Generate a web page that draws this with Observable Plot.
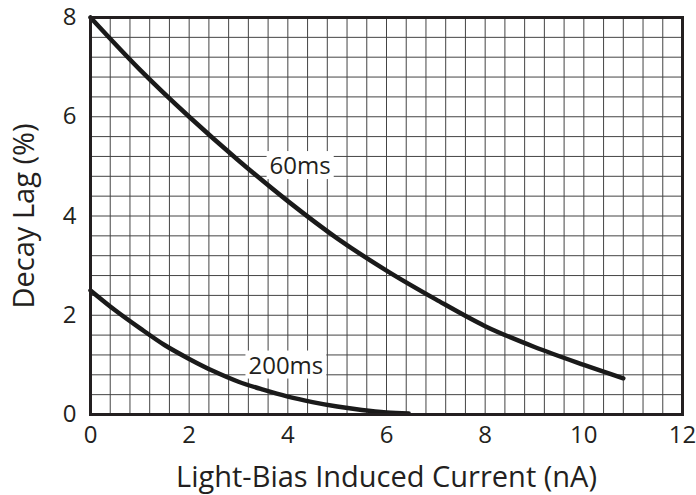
<!DOCTYPE html>
<html>
<head>
<meta charset="utf-8">
<script src="https://cdn.jsdelivr.net/npm/d3@7"></script>
<script src="https://cdn.jsdelivr.net/npm/@observablehq/plot@0.6"></script>
<style>
  html, body { margin: 0; padding: 0; background: #fff; }
  #chart { width: 696px; height: 495px; }
</style>
</head>
<body>
<div id="chart"></div>
<script>
// Data
const current60 = [0, 1, 2, 3, 4, 5, 6, 7, 8, 9, 10, 10.8];
const lag60     = [8, 6.95, 6.0, 5.12, 4.3, 3.55, 2.9, 2.32, 1.78, 1.36, 1.0, 0.73];
const current200 = [0, 0.5, 1, 1.5, 2, 2.5, 3, 3.5, 4, 4.5, 5, 5.5, 6, 6.45];
const lag200     = [2.5, 2.1, 1.74, 1.4, 1.12, 0.87, 0.66, 0.5, 0.36, 0.25, 0.16, 0.09, 0.04, 0.02];
const seriesNames = ["60ms", "200ms"];
const labelX = [4.25, 3.96];
const labelY = [5.0, 0.98];
const xTicks = [0, 2, 4, 6, 8, 10, 12];
const yTicks = [0, 2, 4, 6, 8];
const xGrid = d3.range(0, 12.001, 0.4);
const yGrid = d3.range(0, 8.001, 0.4);
const xTitle = "Light-Bias Induced Current (nA)";
const yTitle = "Decay Lag (%)";

const curves = [
  ...current60.map((x, i) => ({series: seriesNames[0], x, y: lag60[i]})),
  ...current200.map((x, i) => ({series: seriesNames[1], x, y: lag200[i]}))
];
const labels = seriesNames.map((s, i) => ({name: s, x: labelX[i], y: labelY[i]}));

const ink = "#231f20";
const font = "'Open Sans', sans-serif";

const chart = Plot.plot({
  width: 696,
  height: 495,
  marginLeft: 90,
  marginRight: 14,
  marginTop: 17,
  marginBottom: 81,
  style: {fontFamily: font, color: ink, background: "#fff", overflow: "visible"},
  x: {domain: [0, 12], axis: null},
  y: {domain: [0, 8], axis: null},
  marks: [
    Plot.ruleX(xGrid, {stroke: "#444", strokeWidth: 1}),
    Plot.ruleY(yGrid, {stroke: "#444", strokeWidth: 1}),
    Plot.line(curves, {x: "x", y: "y", z: "series", stroke: "#1a1a1a", strokeWidth: 4.5, curve: "catmull-rom", strokeLinecap: "round"}),
    Plot.text(labels, {x: "x", y: "y", text: "name", fill: ink, fontSize: 24, fontFamily: font}),
    Plot.frame({stroke: "#231f20", strokeWidth: 3}),
    Plot.text(xTicks, {x: d => d, frameAnchor: "bottom", dy: 21, lineAnchor: "middle", text: d => String(d), fill: ink, fontSize: 24, fontFamily: font}),
    Plot.text(yTicks, {y: d => d, frameAnchor: "left", dx: -14, textAnchor: "end", lineAnchor: "middle", text: d => String(d), fill: ink, fontSize: 24, fontFamily: font}),
    Plot.text([xTitle], {frameAnchor: "bottom", dy: 63, lineAnchor: "middle", textAnchor: "middle", fill: ink, fontSize: 29, fontFamily: font}),
    Plot.text([yTitle], {frameAnchor: "left", dx: -66, rotate: -90, lineAnchor: "middle", textAnchor: "middle", fill: ink, fontSize: 29, fontFamily: font})
  ]
});

document.getElementById("chart").appendChild(chart);

// white boxes behind the curve labels
const svgNS = "http://www.w3.org/2000/svg";
chart.querySelectorAll("text").forEach(t => {
  if (!seriesNames.includes(t.textContent)) return;
  const b = t.getBBox();
  const r = document.createElementNS(svgNS, "rect");
  r.setAttribute("x", b.x - 3);
  r.setAttribute("y", b.y + 3);
  r.setAttribute("width", b.width + 6);
  r.setAttribute("height", b.height - 5);
  r.setAttribute("fill", "#fff");
  const tr = t.getAttribute("transform");
  if (tr) r.setAttribute("transform", tr);
  t.parentNode.insertBefore(r, t);
});
</script>
</body>
</html>
